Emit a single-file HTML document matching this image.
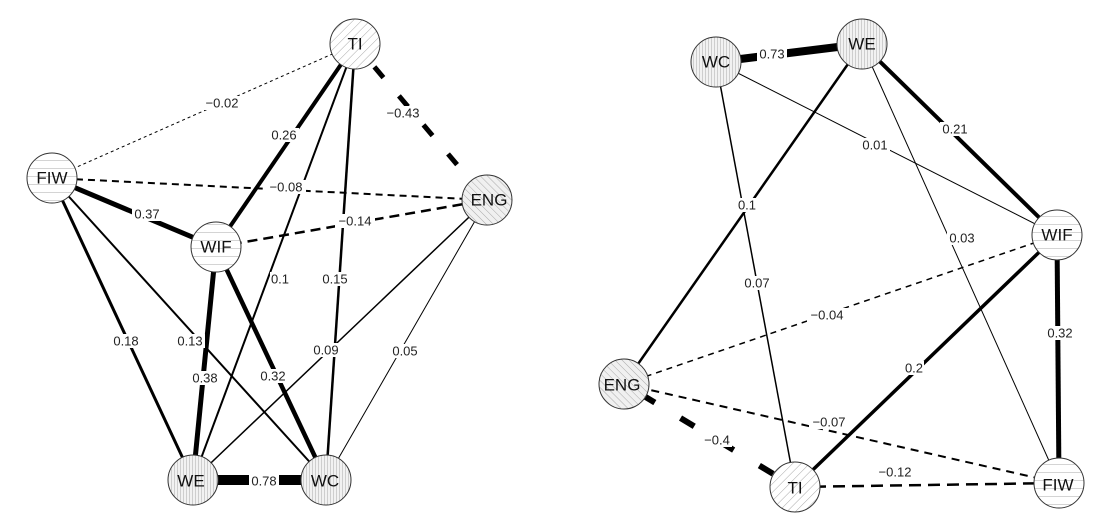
<!DOCTYPE html>
<html><head><meta charset="utf-8"><style>
html,body{margin:0;padding:0;background:#fff;}
svg{display:block;}
.l{font-family:"Liberation Sans",sans-serif;font-size:13px;fill:#222;text-anchor:middle;dominant-baseline:central;}
.b{fill:#fff;stroke:none;}
.n{font-family:"Liberation Sans",sans-serif;font-size:17px;fill:#111;text-anchor:middle;dominant-baseline:central;}
line{stroke:#000;stroke-linecap:butt;}
circle{stroke:#333;stroke-width:1;}
</style></head><body>
<svg width="1097" height="517" viewBox="0 0 1097 517" xmlns="http://www.w3.org/2000/svg">
<defs>
<pattern id="pd1" width="6" height="6" patternUnits="userSpaceOnUse" patternTransform="rotate(45)"><rect width="6" height="6" fill="#fff"/><line x1="0" y1="0" x2="0" y2="6" style="stroke:#aaa;stroke-width:1"/></pattern>
<pattern id="pd2" width="5" height="5" patternUnits="userSpaceOnUse" patternTransform="rotate(-45)"><rect width="5" height="5" fill="#f0f0f0"/><line x1="0" y1="0" x2="0" y2="5" style="stroke:#aaa;stroke-width:1"/></pattern>
<pattern id="ph" width="8" height="8" patternUnits="userSpaceOnUse"><rect width="8" height="8" fill="#fff"/><line x1="0" y1="0" x2="8" y2="0" style="stroke:#aaa;stroke-width:1"/></pattern>
<pattern id="pv" width="3" height="3" patternUnits="userSpaceOnUse"><rect width="3" height="3" fill="#f2f2f2"/><line x1="0" y1="0" x2="0" y2="3" style="stroke:#aaa;stroke-width:1"/></pattern>
</defs>
<!-- LEFT edges -->
<line x1="355" y1="44" x2="52" y2="178" stroke-width="1" stroke-dasharray="3,3"/>
<line x1="355" y1="44" x2="487" y2="200" stroke-width="5" stroke-dasharray="14,24" stroke-dashoffset="-30"/>
<line x1="355" y1="44" x2="216" y2="247" stroke-width="4"/>
<line x1="355" y1="44" x2="193" y2="480" stroke-width="2"/>
<line x1="355" y1="44" x2="326" y2="480" stroke-width="2.5"/>
<line x1="52" y1="178" x2="487" y2="200" stroke-width="2" stroke-dasharray="7,5"/>
<line x1="52" y1="178" x2="216" y2="247" stroke-width="5"/>
<line x1="52" y1="178" x2="193" y2="480" stroke-width="3"/>
<line x1="52" y1="178" x2="326" y2="480" stroke-width="2"/>
<line x1="216" y1="247" x2="487" y2="200" stroke-width="2.5" stroke-dasharray="10,6"/>
<line x1="216" y1="247" x2="193" y2="480" stroke-width="5"/>
<line x1="216" y1="247" x2="326" y2="480" stroke-width="4.5"/>
<line x1="487" y1="200" x2="193" y2="480" stroke-width="1.5"/>
<line x1="487" y1="200" x2="326" y2="480" stroke-width="1"/>
<line x1="193" y1="480" x2="326" y2="480" stroke-width="10"/>
<!-- LEFT labels -->
<rect class="b" x="202" y="96" width="40" height="14"/><text class="l" x="222" y="103">−0.02</text>
<rect class="b" x="383" y="106" width="40" height="14"/><text class="l" x="403" y="113">−0.43</text>
<rect class="b" x="269" y="128" width="30" height="14"/><text class="l" x="284" y="135">0.26</text>
<rect class="b" x="266" y="180" width="40" height="14"/><text class="l" x="286" y="187">−0.08</text>
<rect class="b" x="132" y="207" width="30" height="14"/><text class="l" x="147" y="214">0.37</text>
<rect class="b" x="335" y="214" width="40" height="14"/><text class="l" x="355" y="221">−0.14</text>
<rect class="b" x="270" y="272" width="20" height="14"/><text class="l" x="280" y="279">0.1</text>
<rect class="b" x="320" y="272" width="30" height="14"/><text class="l" x="335" y="279">0.15</text>
<rect class="b" x="111" y="334" width="30" height="14"/><text class="l" x="126" y="341">0.18</text>
<rect class="b" x="175" y="334" width="30" height="14"/><text class="l" x="190" y="341">0.13</text>
<rect class="b" x="190" y="371" width="30" height="14"/><text class="l" x="205" y="378">0.38</text>
<rect class="b" x="258" y="369" width="30" height="14"/><text class="l" x="273" y="376">0.32</text>
<rect class="b" x="311" y="343" width="30" height="14"/><text class="l" x="326" y="350">0.09</text>
<rect class="b" x="390" y="344" width="30" height="14"/><text class="l" x="405" y="351">0.05</text>
<rect class="b" x="249" y="474" width="30" height="14"/><text class="l" x="264" y="481">0.78</text>
<!-- LEFT nodes -->
<circle cx="355" cy="44" r="25" fill="url(#pd1)"/><text class="n" x="355" y="44">TI</text>
<circle cx="52" cy="178" r="25" fill="url(#ph)"/><text class="n" x="52" y="178">FIW</text>
<circle cx="487" cy="200" r="25" fill="url(#pd2)"/><text class="n" x="489" y="200">ENG</text>
<circle cx="216" cy="247" r="25" fill="url(#ph)"/><text class="n" x="216" y="247">WIF</text>
<circle cx="193" cy="480" r="25" fill="url(#pv)"/><text class="n" x="191" y="481">WE</text>
<circle cx="326" cy="480" r="25" fill="url(#pv)"/><text class="n" x="325" y="481">WC</text>
<!-- RIGHT edges -->
<line x1="716" y1="62" x2="862" y2="44" stroke-width="8"/>
<line x1="716" y1="62" x2="1057" y2="235" stroke-width="1"/>
<line x1="716" y1="62" x2="795" y2="487" stroke-width="1.5"/>
<line x1="862" y1="44" x2="624" y2="384" stroke-width="2.5"/>
<line x1="862" y1="44" x2="1057" y2="235" stroke-width="4"/>
<line x1="862" y1="44" x2="1059" y2="483" stroke-width="1"/>
<line x1="1057" y1="235" x2="624" y2="384" stroke-width="1.5" stroke-dasharray="6,5"/>
<line x1="1057" y1="235" x2="1059" y2="483" stroke-width="5"/>
<line x1="1057" y1="235" x2="795" y2="487" stroke-width="3.5"/>
<line x1="624" y1="384" x2="1059" y2="483" stroke-width="2" stroke-dasharray="8,6"/>
<line x1="624" y1="384" x2="795" y2="487" stroke-width="6" stroke-dasharray="16,30" stroke-dashoffset="-20"/>
<line x1="795" y1="487" x2="1059" y2="483" stroke-width="2.5" stroke-dasharray="12,7"/>
<!-- RIGHT labels -->
<rect class="b" x="757" y="47" width="30" height="14"/><text class="l" x="772" y="54">0.73</text>
<rect class="b" x="860" y="138" width="30" height="14"/><text class="l" x="875" y="145">0.01</text>
<rect class="b" x="742" y="276" width="30" height="14"/><text class="l" x="757" y="283">0.07</text>
<rect class="b" x="737" y="198" width="20" height="14"/><text class="l" x="747" y="205">0.1</text>
<rect class="b" x="940" y="122" width="30" height="14"/><text class="l" x="955" y="129">0.21</text>
<rect class="b" x="947" y="231" width="30" height="14"/><text class="l" x="962" y="238">0.03</text>
<rect class="b" x="807" y="308" width="40" height="14"/><text class="l" x="827" y="315">−0.04</text>
<rect class="b" x="1045" y="326" width="30" height="14"/><text class="l" x="1060" y="333">0.32</text>
<rect class="b" x="904" y="361" width="20" height="14"/><text class="l" x="914" y="368">0.2</text>
<rect class="b" x="809" y="415" width="40" height="14"/><text class="l" x="829" y="422">−0.07</text>
<rect class="b" x="702" y="433" width="30" height="14"/><text class="l" x="717" y="440">−0.4</text>
<rect class="b" x="875" y="465" width="40" height="14"/><text class="l" x="895" y="472">−0.12</text>
<!-- RIGHT nodes -->
<circle cx="716" cy="62" r="25" fill="url(#pv)"/><text class="n" x="716" y="62">WC</text>
<circle cx="862" cy="44" r="25" fill="url(#pv)"/><text class="n" x="862" y="44">WE</text>
<circle cx="1057" cy="235" r="25" fill="url(#ph)"/><text class="n" x="1057" y="235">WIF</text>
<circle cx="624" cy="384" r="25" fill="url(#pd2)"/><text class="n" x="622" y="385">ENG</text>
<circle cx="795" cy="487" r="25" fill="url(#pd1)"/><text class="n" x="795" y="488">TI</text>
<circle cx="1059" cy="483" r="25" fill="url(#ph)"/><text class="n" x="1058" y="485">FIW</text>
</svg>
</body></html>
